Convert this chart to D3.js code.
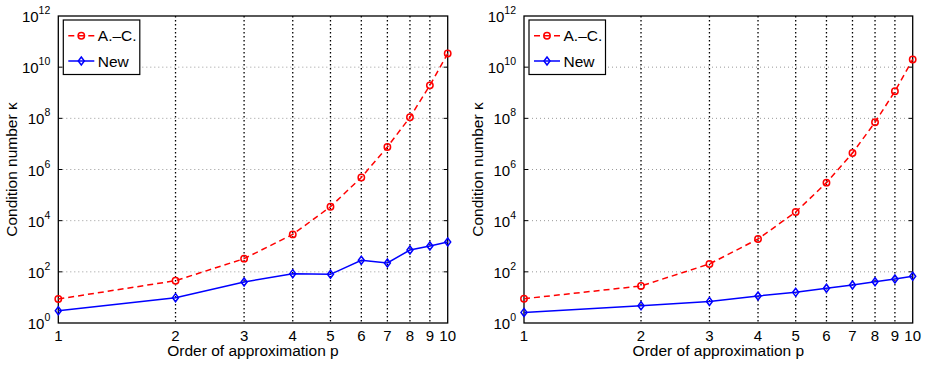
<!DOCTYPE html>
<html><head><meta charset="utf-8">
<script src="https://cdn.jsdelivr.net/npm/d3@7"></script>
<style>body{margin:0;background:#fff}svg{display:block}text{font-family:"Liberation Sans",Arial,sans-serif;fill:#000}</style>
</head><body><svg id="c" width="927" height="365"></svg>
<script>
const orders = [1,2,3,4,5,6,7,8,9,10];
const leftAC  = [8.7, 45, 327, 2900, 35000, 4.9e5, 7.6e6, 1.1e8, 1.95e9, 3.4e10];
const leftNew = [3.0, 9.8, 40, 85, 80, 282, 222, 715, 1020, 1470];
const rightAC  = [8.9, 28, 203, 1920, 21800, 3.06e5, 4.4e6, 7.0e7, 1.14e9, 2.0e10];
const rightNew = [2.6, 4.7, 7.0, 11.4, 15.8, 22.7, 30.7, 41, 52.5, 67];
const yExps = [0,2,4,6,8,10,12];
const seriesNames = ["A.\u2013C.", "New"];
const xLabel = "Order of approximation p";
const yLabel = "Condition number \u03ba";

const svg = d3.select("#c");
const diamond = "M0,-4L3,0L0,4L-3,0Z";

function panel(x0, x1, dataAC, dataNew, ylabX){
  const top = 16, bottom = 323;
  const x = d3.scaleLog().domain([1,10]).range([x0,x1]);
  const y = d3.scaleLog().domain([1,1e12]).range([bottom,top]);
  const g = svg.append("g");
  yExps.slice(1,-1).forEach(e=>{
    const yy = y(Math.pow(10,e));
    g.append("line").attr("x1",x0).attr("x2",x1).attr("y1",yy).attr("y2",yy)
      .attr("stroke","#999").attr("stroke-width",1).attr("stroke-dasharray","1,3");
    g.append("line").attr("x1",x1-4).attr("x2",x1).attr("y1",yy).attr("y2",yy).attr("stroke","#000").attr("stroke-width",1);
    g.append("line").attr("x1",x0).attr("x2",x0+4).attr("y1",yy).attr("y2",yy).attr("stroke","#000").attr("stroke-width",1);
  });
  orders.slice(1,-1).forEach(p=>{
    g.append("line").attr("x1",x(p)).attr("x2",x(p)).attr("y1",top).attr("y2",bottom)
      .attr("stroke","#000").attr("stroke-width",1.3).attr("stroke-dasharray","1.5,2.5");
  });
  g.append("rect").attr("x",x0).attr("y",top).attr("width",x1-x0).attr("height",bottom-top)
    .attr("fill","none").attr("stroke","#000").attr("stroke-width",1.3);
  orders.forEach(p=>{
    g.append("text").attr("x",x(p)).attr("y",340.5).attr("text-anchor","middle").attr("font-size",15).text(p);
  });
  yExps.forEach(e=>{
    const t = g.append("text").attr("x",x0-8).attr("y",y(Math.pow(10,e))+6).attr("text-anchor","end").attr("font-size",15);
    t.append("tspan").text("10");
    t.append("tspan").attr("dy",-8).attr("font-size",10.5).text(e);
  });
  g.append("text").attr("x",(x0+x1)/2).attr("y",356).attr("text-anchor","middle").attr("font-size",15.5).text(xLabel);
  g.append("text").attr("transform",`translate(${ylabX},${(top+bottom)/2}) rotate(-90)`).attr("text-anchor","middle").attr("font-size",15.5).text(yLabel);

  const line = d3.line().x((d,i)=>x(orders[i])).y(d=>y(d));
  g.append("path").datum(dataAC).attr("d",line).attr("fill","none").attr("stroke","#ff0000").attr("stroke-width",1.5).attr("stroke-dasharray","6,4");
  g.append("path").datum(dataNew).attr("d",line).attr("fill","none").attr("stroke","#0000ff").attr("stroke-width",1.5);
  g.selectAll(".ac").data(dataAC).enter().append("circle").attr("cx",(d,i)=>x(orders[i])).attr("cy",d=>y(d)).attr("r",3.2)
    .attr("fill","none").attr("stroke","#ff0000").attr("stroke-width",1.5);
  g.selectAll(".nw").data(dataNew).enter().append("path").attr("d",diamond)
    .attr("transform",(d,i)=>`translate(${x(orders[i])},${y(d)})`)
    .attr("fill","none").attr("stroke","#0000ff").attr("stroke-width",1.5);

  const lx = x0+5, ly = 20;
  g.append("rect").attr("x",lx).attr("y",ly).attr("width",76.5).attr("height",54.5).attr("fill","#fff").attr("stroke","#000").attr("stroke-width",1.2);
  const ys = [35.7, 61];
  g.append("line").attr("x1",lx+5).attr("x2",lx+31).attr("y1",ys[0]).attr("y2",ys[0]).attr("stroke","#ff0000").attr("stroke-width",1.5).attr("stroke-dasharray","6,4");
  g.append("circle").attr("cx",lx+18).attr("cy",ys[0]).attr("r",3.2).attr("fill","none").attr("stroke","#ff0000").attr("stroke-width",1.5);
  g.append("line").attr("x1",lx+5).attr("x2",lx+31).attr("y1",ys[1]).attr("y2",ys[1]).attr("stroke","#0000ff").attr("stroke-width",1.5);
  g.append("path").attr("d",diamond).attr("transform",`translate(${lx+18},${ys[1]})`).attr("fill","none").attr("stroke","#0000ff").attr("stroke-width",1.5);
  g.append("text").attr("x",lx+34.5).attr("y",ys[0]+5.5).attr("font-size",15.5).text(seriesNames[0]);
  g.append("text").attr("x",lx+34.5).attr("y",ys[1]+5.5).attr("font-size",15.5).text(seriesNames[1]);
}
panel(58.3, 447.7, leftAC, leftNew, 17);
panel(524, 912.7, rightAC, rightNew, 483);
</script></body></html>
